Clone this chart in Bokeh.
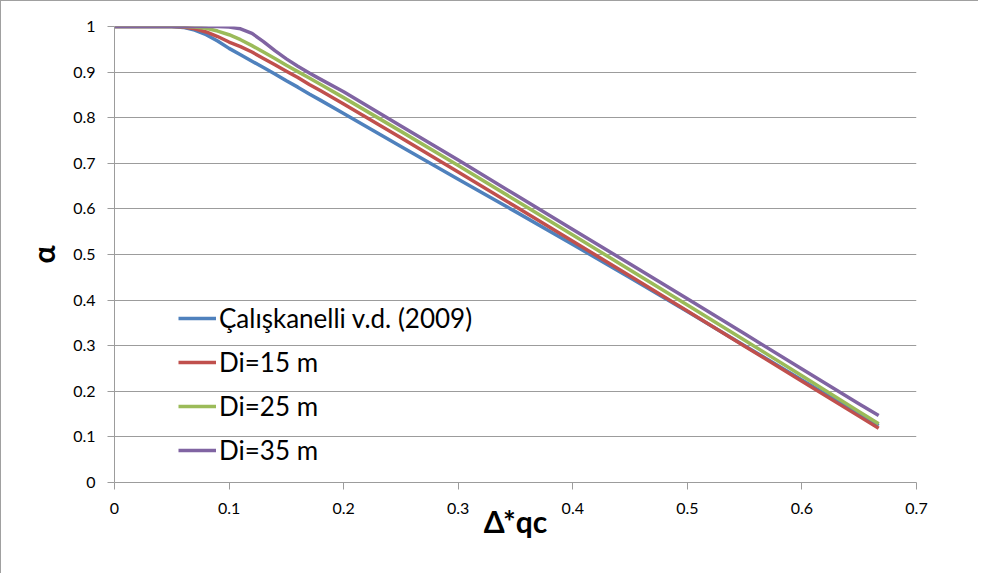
from bokeh.plotting import figure
from bokeh.models import FixedTicker, Legend, LegendItem
from bokeh.embed import file_html
from bokeh.resources import INLINE

# ---- data ----
x_vals = [0, 0.02, 0.04, 0.05, 0.06, 0.07, 0.08, 0.09, 0.10, 0.11, 0.12, 0.13,
          0.14, 0.15, 0.16, 0.17, 0.18, 0.20, 0.25, 0.30, 0.35, 0.40, 0.45,
          0.50, 0.55, 0.60, 0.65, 0.667]

caliskanelli = [1, 1, 1, 1, 0.998, 0.992, 0.982, 0.968, 0.952, 0.938, 0.924, 0.910,
                0.896, 0.881, 0.867, 0.852, 0.838, 0.809, 0.737, 0.665, 0.594, 0.522, 0.449,
                0.375, 0.300, 0.225, 0.150, 0.125]
di15 = [1, 1, 1, 1, 0.999, 0.995, 0.988, 0.978, 0.966, 0.956, 0.944, 0.930,
        0.916, 0.902, 0.888, 0.873, 0.859, 0.830, 0.756, 0.681, 0.605, 0.529, 0.453,
        0.376, 0.299, 0.222, 0.145, 0.119]
di25 = [1, 1, 1, 1, 1, 0.999, 0.996, 0.990, 0.982, 0.971, 0.958, 0.944,
        0.930, 0.915, 0.901, 0.887, 0.873, 0.844, 0.770, 0.695, 0.619, 0.543, 0.466,
        0.389, 0.312, 0.234, 0.155, 0.129]
di35 = [1, 1, 1, 1, 1, 1, 1, 1, 0.999, 0.995, 0.985, 0.967,
        0.947, 0.929, 0.913, 0.898, 0.884, 0.857, 0.782, 0.707, 0.631, 0.555, 0.479,
        0.403, 0.326, 0.249, 0.172, 0.147]

series_names = ["Çalışkanelli v.d. (2009)", "Di=15 m", "Di=25 m", "Di=35 m"]
series_values = [caliskanelli, di15, di25, di35]
series_colors = ["#4F81BD", "#C0504D", "#9BBB59", "#8064A2"]

x_ticks = [0, 0.1, 0.2, 0.3, 0.4, 0.5, 0.6, 0.7]
x_tick_labels = ["0", "0.1", "0.2", "0.3", "0.4", "0.5", "0.6", "0.7"]
y_ticks = [0, 0.1, 0.2, 0.3, 0.4, 0.5, 0.6, 0.7, 0.8, 0.9, 1.0]
y_tick_labels = ["0", "0.1", "0.2", "0.3", "0.4", "0.5", "0.6", "0.7", "0.8", "0.9", "1"]

FONT = "Lato"
GRAY = "#9c9c9c"

p = figure(width=978, height=573, x_range=(0, 0.7), y_range=(0, 1),
           output_backend="svg", toolbar_location=None,
           min_border_left=113, min_border_right=63,
           min_border_top=25, min_border_bottom=92)
p.styles = {"border-top": "1px solid #a0a0a0", "border-left": "1px solid #a0a0a0"}
p.outline_line_color = None
p.background_fill_color = "white"
p.border_fill_color = "white"

p.xgrid.visible = False
p.ygrid.grid_line_color = GRAY
p.ygrid.grid_line_width = 1
p.ygrid.ticker = FixedTicker(ticks=y_ticks)

for ax in (p.xaxis[0], p.yaxis[0]):
    ax.axis_line_color = GRAY
    ax.major_tick_line_color = GRAY
    ax.major_tick_in = 0
    ax.major_tick_out = 7
    ax.minor_tick_line_color = None
    ax.major_label_text_font = FONT
    ax.major_label_text_font_size = "16px"
    ax.major_label_text_color = "black"
    ax.axis_label_text_font = FONT
    ax.axis_label_text_font_style = "bold"
    ax.axis_label_text_color = "black"

p.xaxis.ticker = FixedTicker(ticks=x_ticks)
p.xaxis.major_label_overrides = {t: l for t, l in zip(x_ticks, x_tick_labels)}
p.yaxis.ticker = FixedTicker(ticks=y_ticks)
p.yaxis.major_label_overrides = {t: l for t, l in zip(y_ticks, y_tick_labels)}
p.xaxis.major_label_standoff = 13
p.yaxis.major_label_standoff = 12
p.xaxis.axis_label = "Δ*qc"
p.yaxis.axis_label = "α"
p.xaxis.axis_label_text_font_size = "30px"
p.yaxis.axis_label_text_font_size = "30px"
p.xaxis.axis_label_standoff = -14
p.yaxis.axis_label_standoff = 9

items = []
for name, vals, col in zip(series_names, series_values, series_colors):
    r = p.line(x_vals, vals, line_color=col, line_width=3.5, line_join="round")
    items.append(LegendItem(label=name, renderers=[r]))

legend = Legend(items=items, location=(64, 16), orientation="vertical",
                border_line_color=None, background_fill_alpha=0,
                padding=0, margin=0, spacing=12, glyph_width=38, glyph_height=20,
                label_height=20, label_standoff=3,
                label_text_font=FONT, label_text_font_size="26px",
                label_text_color="black")
p.add_layout(legend, "center")

open("out.html", "w").write(file_html(p, INLINE))
